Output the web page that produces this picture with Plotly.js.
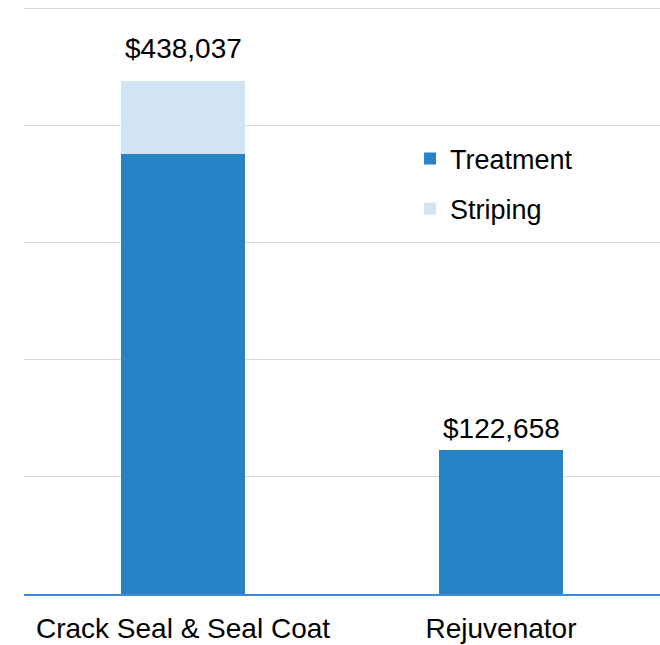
<!DOCTYPE html>
<html><head><meta charset="utf-8">
<script src="https://cdn.plot.ly/plotly-3.0.1.min.js"></script>
<style>html,body{margin:0;padding:0;background:#fff}#chart{width:660px;height:645px}</style>
</head><body><div id="chart"></div>
<script>
const categories = ["Crack Seal & Seal Coat", "Rejuvenator"];
const treatment = [375700, 122658];
const striping = [62337, 0];
const totals = categories.map((c, i) => treatment[i] + striping[i]);
const totalLabels = totals.map(v => "$" + v.toLocaleString("en-US"));
const labelShift = [15, 4];

const FONT = "'Liberation Sans Narrow', 'Arial Narrow', 'Liberation Sans', Arial, sans-serif";

const data = [
  {type: "bar", name: "Treatment", x: categories, y: treatment, marker: {color: "#2683C6"}, legendgroup: "a", hoverinfo: "none"},
  {type: "bar", name: "Striping", x: categories, y: striping, marker: {color: "#D0E4F4"}, legendgroup: "b", hoverinfo: "none"}
];

const layout = {
  width: 660, height: 645,
  margin: {l: 24, r: 0, t: 7, b: 51},
  barmode: "stack",
  bargap: 0.607,
  paper_bgcolor: "#fff", plot_bgcolor: "#fff",
  font: {family: FONT, size: 28, color: "#000"},
  showlegend: true,
  legend: {x: 0.607, y: 0.783, xanchor: "left", yanchor: "top", traceorder: "grouped", tracegroupgap: 12,
           font: {family: FONT, size: 27, color: "#000"}, bgcolor: "rgba(0,0,0,0)", itemwidth: 30},
  xaxis: {showline: true, linecolor: "#3B8ED4", linewidth: 1.5, ticks: "", showgrid: false, ticklabelstandoff: 9,
          tickfont: {family: FONT, size: 28, color: "#000"}, fixedrange: true},
  yaxis: {range: [0, 501000], dtick: 100000, showticklabels: false, showgrid: true, gridcolor: "#D9D9D9",
          gridwidth: 1.3, zeroline: false, fixedrange: true},
  annotations: categories.map((c, i) => ({x: c, y: totals[i], xref: "x", yref: "y", text: totalLabels[i],
          showarrow: false, yanchor: "bottom", yshift: labelShift[i], font: {family: FONT, size: 28, color: "#000"}}))
};

Plotly.newPlot("chart", data, layout, {displayModeBar: false, staticPlot: true});
</script></body></html>
